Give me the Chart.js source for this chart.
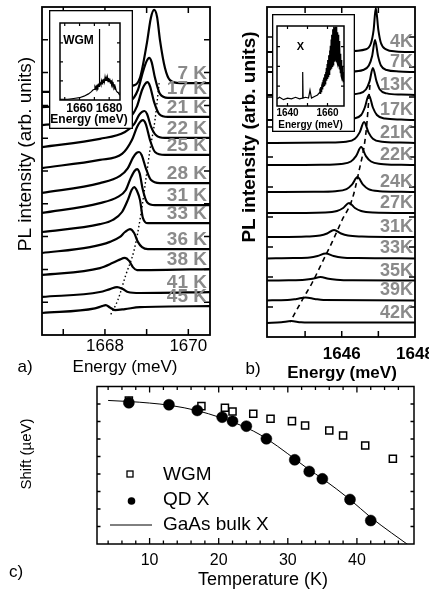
<!DOCTYPE html>
<html>
<head>
<meta charset="utf-8">
<script src="https://cdn.jsdelivr.net/npm/chart.js@4"></script>
<style>
  html, body { margin: 0; padding: 0; background: #fff; }
  #fig { position: relative; width: 429px; height: 589px; overflow: hidden; }
  canvas { position: absolute; }
</style>
</head>
<body>
<div id="fig">
  <canvas id="pa" width="215" height="392" style="left:0;top:0"></canvas>
  <canvas id="pb" width="214" height="392" style="left:215px;top:0"></canvas>
  <canvas id="pc" width="429" height="209" style="left:0;top:380px"></canvas>
  <canvas id="ia" width="84" height="119" style="left:49px;top:10px"></canvas>
  <canvas id="ib" width="83" height="118" style="left:272px;top:14px"></canvas>
</div>
<script>
const FAM = '"Liberation Sans", Arial, Helvetica, sans-serif';

// ---- panel a: WGM spectra, [energy meV, intensity arb.] ----
const tempsA = ['7 K', '17 K', '21 K', '22 K', '25 K', '28 K', '31 K', '33 K', '36 K', '38 K', '41 K', '45 K'];
const a7  = [[1666.49,7.41],[1668.12,7.47],[1668.65,7.59],[1668.84,7.84],[1669.01,8.93],[1669.10,9.66],[1669.18,9.91],[1669.25,9.70],[1669.32,8.99],[1669.44,8.14],[1669.56,7.77],[1669.80,7.68],[1670.52,7.68]];
const a17 = [[1666.49,6.95],[1668.12,7.04],[1668.60,7.13],[1668.79,7.47],[1668.91,8.02],[1669.00,8.35],[1669.06,8.45],[1669.12,8.32],[1669.20,7.84],[1669.32,7.35],[1669.51,7.23],[1670.52,7.23]];
const a21 = [[1666.49,6.40],[1668.12,6.52],[1668.60,6.65],[1668.77,6.98],[1668.89,7.47],[1668.96,7.65],[1669.02,7.71],[1669.08,7.59],[1669.18,7.10],[1669.30,6.74],[1669.51,6.65],[1670.52,6.65]];
const a22 = [[1666.49,5.73],[1667.88,5.98],[1668.48,6.19],[1668.70,6.43],[1668.82,6.71],[1668.89,6.80],[1668.95,6.83],[1669.01,6.74],[1669.10,6.37],[1669.22,6.10],[1669.44,6.01],[1670.52,6.01]];
const a25 = [[1666.49,5.09],[1667.88,5.34],[1668.41,5.52],[1668.65,5.95],[1668.77,6.34],[1668.84,6.49],[1668.91,6.55],[1668.98,6.43],[1669.08,5.95],[1669.20,5.58],[1669.44,5.49],[1670.52,5.49]];
const a28 = [[1666.49,4.33],[1667.88,4.63],[1668.36,4.85],[1668.55,5.09],[1668.67,5.40],[1668.76,5.55],[1668.82,5.58],[1668.88,5.49],[1668.98,5.09],[1669.10,4.73],[1669.32,4.63],[1670.52,4.63]];
const a31 = [[1666.49,3.72],[1667.88,4.02],[1668.31,4.21],[1668.50,4.42],[1668.62,4.79],[1668.71,5.00],[1668.77,5.06],[1668.83,4.94],[1668.91,4.42],[1669.01,4.05],[1669.20,3.96],[1670.52,3.96]];
const a33 = [[1666.49,3.14],[1667.88,3.38],[1668.19,3.51],[1668.41,3.75],[1668.55,4.12],[1668.64,4.42],[1668.70,4.51],[1668.77,4.39],[1668.84,4.12],[1668.91,3.57],[1669.03,3.41],[1670.52,3.41]];
const a36 = [[1666.49,2.50],[1667.64,2.68],[1668.12,2.84],[1668.36,2.99],[1668.48,3.14],[1668.60,3.23],[1668.70,3.11],[1668.79,2.84],[1668.89,2.68],[1669.03,2.62],[1670.52,2.62]];
const a38 = [[1666.49,1.83],[1667.88,2.04],[1668.19,2.20],[1668.34,2.29],[1668.48,2.35],[1668.58,2.26],[1668.67,2.07],[1668.77,1.98],[1669.08,1.98],[1670.52,2.01]];
const a41 = [[1666.49,1.16],[1667.88,1.31],[1668.12,1.40],[1668.29,1.46],[1668.43,1.40],[1668.55,1.31],[1668.84,1.28],[1670.52,1.31]];
const a45 = [[1666.49,0.67],[1667.76,0.81],[1667.93,0.88],[1668.02,0.91],[1668.12,0.84],[1668.24,0.76],[1668.48,0.79],[1668.84,0.85],[1670.52,0.88]];
const spectraA = [a7, a17, a21, a22, a25, a28, a31, a33, a36, a38, a41, a45];
const guideA = [[1669.30,7.68],[1669.20,6.55],[1669.08,5.64],[1668.98,4.73],[1668.86,3.66],[1668.70,2.59],[1668.50,1.83],[1668.31,1.07],[1668.12,0.58]];
const tickLabelsA = [1668, 1670];

// inset a: wide spectrum
const insetA = [[1646.8,0.01],[1652,0.01],[1656,0.02],[1660,0.03],[1663,0.05],[1666,0.08],[1668,0.11],[1669,0.13],
  [1670.0,0.14],[1670.4,0.17],[1670.8,0.15],[1671.2,0.18],[1671.6,0.16],[1672.0,0.19],[1672.4,0.17],[1672.8,0.20],[1673.2,0.18],
  [1673.4,0.19],[1673.5,0.93],[1673.6,0.20],[1674.0,0.22],[1674.4,0.20],[1674.8,0.25],[1675.2,0.21],[1675.6,0.27],[1676.0,0.23],
  [1676.4,0.28],[1676.8,0.24],[1677.2,0.30],[1677.6,0.25],[1678.0,0.29],[1678.4,0.25],[1678.8,0.30],[1679.2,0.24],[1679.6,0.29],
  [1680.0,0.24],[1680.4,0.28],[1680.8,0.22],[1681.2,0.26],[1681.6,0.20],[1682.0,0.24],[1682.4,0.19],[1682.8,0.21],[1683.2,0.16],
  [1683.6,0.18],[1684.0,0.14],[1684.4,0.15],[1684.8,0.12],[1685.2,0.12],[1685.6,0.10],[1686.0,0.10],[1686.6,0.08],[1687.3,0.07]];
const tickLabelsInsetA = [1660, 1680];

// ---- panel b: QD exciton spectra ----
const tempsB = ['4K', '7K', '13K', '17K', '21K', '22K', '24K', '27K', '31K', '33K', '35K', '39K', '42K'];
const b4  = [[1643.96,9.50],[1646.12,9.52],[1646.66,9.59],[1646.80,9.80],[1646.87,10.23],[1646.93,10.97],[1647.00,10.23],[1647.07,9.80],[1647.21,9.59],[1647.48,9.52],[1648.00,9.50]];
const b7  = [[1643.96,8.83],[1646.25,8.85],[1646.58,8.90],[1646.74,9.05],[1646.83,9.37],[1646.91,9.90],[1646.99,9.37],[1647.07,9.05],[1647.23,8.90],[1647.56,8.85],[1648.00,8.83]];
const b13 = [[1643.96,8.07],[1646.09,8.08],[1646.47,8.12],[1646.66,8.25],[1646.76,8.52],[1646.85,8.97],[1646.95,8.52],[1647.04,8.25],[1647.23,8.12],[1647.62,8.08],[1648.00,8.07]];
const b17 = [[1643.96,7.23],[1645.87,7.25],[1646.31,7.28],[1646.53,7.40],[1646.63,7.65],[1646.74,8.07],[1646.85,7.65],[1646.96,7.40],[1647.18,7.28],[1647.62,7.25],[1648.00,7.23]];
const b21 = [[1643.96,6.47],[1645.63,6.48],[1646.12,6.51],[1646.36,6.61],[1646.49,6.82],[1646.61,7.17],[1646.73,6.82],[1646.85,6.61],[1647.10,6.51],[1647.59,6.48],[1648.00,6.47]];
const b22 = [[1643.96,5.73],[1645.44,5.74],[1645.98,5.77],[1646.25,5.85],[1646.39,6.03],[1646.53,6.33],[1646.66,6.03],[1646.80,5.85],[1647.07,5.77],[1647.62,5.74],[1648.00,5.73]];
const b24 = [[1643.96,4.83],[1645.23,4.84],[1645.83,4.86],[1646.13,4.93],[1646.28,5.08],[1646.43,5.33],[1646.58,5.08],[1646.73,4.93],[1647.03,4.86],[1647.63,4.84],[1648.00,4.83]];
const b27 = [[1643.96,4.13],[1645.55,4.15],[1645.87,4.20],[1646.04,4.30],[1646.20,4.47],[1646.36,4.30],[1646.53,4.20],[1646.85,4.15],[1648.00,4.13]];
const b31 = [[1643.96,3.33],[1645.03,3.35],[1645.41,3.38],[1645.60,3.45],[1645.79,3.57],[1645.98,3.45],[1646.17,3.38],[1646.55,3.35],[1648.00,3.33]];
const b33 = [[1643.96,2.62],[1644.69,2.63],[1645.13,2.65],[1645.34,2.70],[1645.56,2.78],[1645.78,2.70],[1646.00,2.65],[1646.43,2.63],[1648.00,2.62]];
const b35 = [[1643.96,1.88],[1644.55,1.89],[1644.99,1.91],[1645.20,1.94],[1645.42,2.00],[1645.64,1.94],[1645.86,1.91],[1646.29,1.89],[1648.00,1.88]];
const b39 = [[1643.96,1.22],[1644.52,1.23],[1644.77,1.27],[1645.01,1.32],[1645.26,1.27],[1645.50,1.23],[1648.00,1.22]];
const b42 = [[1643.96,0.47],[1644.35,0.49],[1644.62,0.53],[1644.89,0.49],[1645.41,0.48],[1648.00,0.48]];
const spectraB = [b4, b7, b13, b17, b21, b22, b24, b27, b31, b33, b35, b39, b42];
const guideB = [[1646.77,8.40],[1646.66,6.80],[1646.46,5.47],[1646.28,4.57],[1646.01,3.90],[1645.74,3.17],[1645.46,2.47],[1645.19,1.80],[1644.92,1.23],[1644.59,0.50]];
const tickLabelsB = [1646, 1648];

// inset b: wide spectrum, noisy ensemble band on the right
const insetB = [[1634.75,0.09],[1636,0.11],[1638,0.08],[1640,0.10],[1642,0.09],[1644,0.11],[1646,0.09],[1647.4,0.10],[1647.6,0.43],[1647.8,0.10],
  [1649,0.11],[1650.5,0.10],[1651.25,0.20],[1652,0.10],[1653.5,0.12],[1655,0.14],
  [1656.0,0.17],[1656.2,0.22],[1656.4,0.16],[1656.6,0.24],[1656.8,0.18],[1657.0,0.27],[1657.2,0.20],[1657.4,0.30],[1657.6,0.21],[1657.8,0.33],
  [1658.0,0.24],[1658.2,0.36],[1658.4,0.26],[1658.6,0.40],[1658.8,0.28],[1659.0,0.43],[1659.2,0.30],[1659.4,0.48],[1659.6,0.32],[1659.8,0.53],
  [1660.0,0.34],[1660.2,0.58],[1660.4,0.37],[1660.6,0.64],[1660.8,0.40],[1661.0,0.70],[1661.2,0.42],[1661.4,0.76],[1661.6,0.45],[1661.8,0.84],
  [1662.0,0.47],[1662.2,0.90],[1662.4,0.50],[1662.6,0.97],[1662.8,0.52],[1663.0,1.00],[1663.2,0.55],[1663.4,0.99],[1663.6,0.56],[1663.8,1.00],
  [1664.0,0.57],[1664.2,0.98],[1664.4,0.56],[1664.6,1.00],[1664.8,0.55],[1665.0,0.93],[1665.2,0.52],[1665.4,0.90],[1665.6,0.50],[1665.8,0.82],
  [1666.0,0.46],[1666.2,0.75],[1666.4,0.42],[1666.6,0.66],[1666.8,0.38],[1667.0,0.58],[1667.2,0.35],[1667.4,0.50],[1667.6,0.32],[1667.8,0.43],
  [1668.0,0.30],[1668.25,0.36]];
const tickLabelsInsetB = [1640, 1660];

// ---- panel c: energy shift vs temperature ----
const wgmT     = [7, 17.5, 20.9, 22, 25, 27.5, 30.6, 32.5, 36, 38, 41.2, 45.2];
const wgmShift = [0, -110, -141, -213, -257, -354, -400, -484, -580, -677, -870, -1128];
const qdT      = [7, 12.8, 16.9, 20.5, 22, 24, 26.9, 31, 33.1, 35, 39, 42];
const qdShift  = [-44, -83, -193, -323, -400, -497, -741, -1147, -1373, -1515, -1915, -2321];
const bulkT     = [4, 7, 10, 13, 17, 20, 22, 25, 27, 30, 33, 35, 39, 42, 45, 47.4];
const bulkShift = [0, -20, -50, -95, -200, -320, -415, -590, -745, -1030, -1330, -1510, -1915, -2260, -2560, -2790];
const tickLabelsCx = [10, 20, 30, 40];
const tickLabelsCy = [0, -1000, -2000];

function pairs(xs, ys) { return xs.map((x, i) => [x, ys[i]]); }

function isMajor(v, every) {
  const r = v / every;
  return Math.abs(r - Math.round(r)) < 1e-6;
}

function labelFrom(list) {
  return v => {
    const hit = list.find(l => Math.abs(l - v) < 1e-6);
    return hit === undefined ? '' : String(hit);
  };
}

// frame, inward ticks on all sides, labels and texts
function decor(cfg) {
  return {
    id: 'decor',
    beforeDraw(chart) {
      if (!cfg.box) return;
      const {ctx, width, height} = chart;
      ctx.save();
      ctx.fillStyle = '#fff';
      ctx.fillRect(0, 0, width, height);
      ctx.strokeStyle = '#000';
      ctx.lineWidth = cfg.box;
      ctx.strokeRect(cfg.box / 2, cfg.box / 2, width - cfg.box, height - cfg.box);
      ctx.restore();
    },
    afterDatasetsDraw(chart) {
      const {ctx, chartArea: a, scales} = chart;
      const sx = scales.x, sy = scales.y;
      ctx.save();
      ctx.strokeStyle = '#000';
      ctx.lineWidth = cfg.tickWidth;
      ctx.beginPath();
      sx.ticks.forEach(t => {
        const p = sx.getPixelForValue(t.value);
        if (p < a.left + 2 || p > a.right - 2) return;
        const len = isMajor(t.value, cfg.xMajor) ? cfg.tick : cfg.minor;
        ctx.moveTo(p, a.bottom); ctx.lineTo(p, a.bottom - len);
        ctx.moveTo(p, a.top); ctx.lineTo(p, a.top + len);
      });
      sy.ticks.forEach(t => {
        const p = sy.getPixelForValue(t.value);
        if (p < a.top + 2 || p > a.bottom - 2) return;
        const len = isMajor(t.value, cfg.yMajor) ? cfg.tick : cfg.minor;
        ctx.moveTo(a.left, p); ctx.lineTo(a.left + len, p);
        ctx.moveTo(a.right, p); ctx.lineTo(a.right - len, p);
      });
      ctx.stroke();
      ctx.lineWidth = cfg.frame;
      ctx.strokeRect(a.left, a.top, a.right - a.left, a.bottom - a.top);

      if (cfg.temps) {
        ctx.font = cfg.temps.font;
        ctx.fillStyle = '#8a8a8a';
        ctx.textAlign = 'right';
        ctx.textBaseline = 'middle';
        chart.data.datasets.forEach(ds => {
          if (!ds.label) return;
          const last = ds.data[ds.data.length - 1];
          ctx.fillText(ds.label, a.right - cfg.temps.inset, sy.getPixelForValue(last[1]) - cfg.temps.lift);
        });
      }

      if (cfg.legend) {
        ctx.textAlign = 'left';
        ctx.textBaseline = 'middle';
        ctx.font = cfg.legend.font;
        cfg.legend.items.forEach(it => {
          const ds = chart.data.datasets[it.ds];
          ctx.fillStyle = '#000';
          ctx.strokeStyle = '#000';
          if (it.kind === 'rect') {
            ctx.lineWidth = 1.3;
            ctx.fillStyle = '#fff';
            ctx.fillRect(it.x - 3, it.y - 3, 6, 6);
            ctx.strokeRect(it.x - 3, it.y - 3, 6, 6);
          } else if (it.kind === 'circle') {
            ctx.beginPath();
            ctx.arc(it.x, it.y, 3.8, 0, Math.PI * 2);
            ctx.fill();
          } else {
            ctx.lineWidth = 1;
            ctx.beginPath();
            ctx.moveTo(it.x - 21, it.y); ctx.lineTo(it.x + 21, it.y);
            ctx.stroke();
          }
          ctx.fillStyle = '#000';
          ctx.fillText(ds.label, cfg.legend.textX, it.ty);
        });
      }

      (cfg.notes || []).forEach(n => {
        ctx.save();
        ctx.translate(n.x, n.y);
        if (n.rot) ctx.rotate(n.rot * Math.PI / 180);
        ctx.font = n.font;
        ctx.fillStyle = '#000';
        ctx.textAlign = 'center';
        ctx.textBaseline = 'middle';
        ctx.fillText(n.text, 0, 0);
        ctx.restore();
      });
      ctx.restore();
    }
  };
}

function xScale(min, max, step, font, pad, height, labels) {
  return {
    type: 'linear', min: min, max: max,
    grid: {display: false, drawTicks: false}, border: {display: false},
    ticks: {
      stepSize: step, includeBounds: false, autoSkip: false, maxRotation: 0, minRotation: 0,
      padding: pad, color: '#000', font: font, callback: labelFrom(labels)
    },
    afterFit: s => { s.height = height; s.paddingLeft = 0; s.paddingRight = 0; }
  };
}

function yScaleBlank(min, max, step, width) {
  return {
    type: 'linear', min: min, max: max,
    grid: {display: false, drawTicks: false}, border: {display: false},
    ticks: {stepSize: step, includeBounds: false, display: false},
    afterFit: s => { s.width = width; s.paddingTop = 0; s.paddingBottom = 0; }
  };
}

const baseOpts = {
  responsive: false, animation: false, events: [],
  plugins: {legend: {display: false}, tooltip: {enabled: false}}
};

function spectrumSet(label, data, width) {
  return {
    label: label, data: data, borderColor: '#000', borderWidth: width,
    pointRadius: 0, fill: false, cubicInterpolationMode: 'monotone'
  };
}

// panel a
new Chart(document.getElementById('pa'), {
  type: 'line',
  data: {
    datasets: spectraA.map((d, i) => spectrumSet(tempsA[i], d, 2.2)).concat([{
      label: '', data: guideA, borderColor: '#000', borderWidth: 1.4, borderDash: [1.5, 2.5],
      pointRadius: 0, fill: false, cubicInterpolationMode: 'monotone'
    }])
  },
  options: Object.assign({}, baseOpts, {
    layout: {padding: {top: 7, right: 5, left: 0, bottom: 0}},
    scales: {
      x: xScale(1666.49, 1670.52, 1, {family: FAM, size: 17}, 1, 57, tickLabelsA),
      y: yScaleBlank(0, 10, 1, 42)
    }
  }),
  plugins: [decor({
    frame: 1.8, tickWidth: 1.5, tick: 6, minor: 6, xMajor: 1, yMajor: 1,
    temps: {font: 'bold 19px ' + FAM, inset: 3, lift: 9},
    notes: [
      {text: 'PL intensity (arb. units)', x: 26, y: 154, rot: -90, font: '19px ' + FAM},
      {text: 'Energy (meV)', x: 125, y: 367, font: '17px ' + FAM},
      {text: 'a)', x: 25, y: 367, font: '17px ' + FAM}
    ]
  })]
});

// inset a
new Chart(document.getElementById('ia'), {
  type: 'line',
  data: {datasets: [{label: '', data: insetA, borderColor: '#000', borderWidth: 1.2, pointRadius: 0, fill: false, tension: 0}]},
  options: Object.assign({}, baseOpts, {
    layout: {padding: {top: 13, right: 13, left: 0, bottom: 0}},
    scales: {
      x: xScale(1646.8, 1687.3, 10, {family: FAM, size: 12, weight: 'bold'}, 1, 29, tickLabelsInsetA),
      y: yScaleBlank(0, 1.01, 0.25, 11)
    }
  }),
  plugins: [decor({
    box: 1.3, frame: 1.5, tickWidth: 1.2, tick: 3, minor: 3, xMajor: 10, yMajor: 0.25,
    notes: [
      {text: 'WGM', x: 29.5, y: 31, font: 'bold 12px ' + FAM},
      {text: 'Energy (meV)', x: 40, y: 110, font: 'bold 12px ' + FAM}
    ]
  })]
});

// panel b
new Chart(document.getElementById('pb'), {
  type: 'line',
  data: {
    datasets: spectraB.map((d, i) => spectrumSet(tempsB[i], d, 2)).concat([{
      label: '', data: guideB, borderColor: '#000', borderWidth: 1.6, borderDash: [5, 4],
      pointRadius: 0, fill: false, cubicInterpolationMode: 'monotone'
    }])
  },
  options: Object.assign({}, baseOpts, {
    layout: {padding: {top: 7, right: 14, left: 0, bottom: 0}},
    scales: {
      x: xScale(1643.96, 1648.0, 1, {family: FAM, size: 17, weight: 'bold'}, 7, 55, tickLabelsB),
      y: yScaleBlank(0, 11, 1, 52)
    }
  }),
  plugins: [decor({
    frame: 1.8, tickWidth: 1.5, tick: 6, minor: 6, xMajor: 1, yMajor: 1,
    temps: {font: 'bold 18px ' + FAM, inset: 2, lift: 10},
    notes: [
      {text: 'PL intensity (arb. units)', x: 35, y: 137, rot: -90, font: 'bold 19px ' + FAM},
      {text: 'Energy (meV)', x: 127, y: 373, font: 'bold 17px ' + FAM},
      {text: 'b)', x: 38, y: 369, font: '17px ' + FAM}
    ]
  })]
});

// inset b
new Chart(document.getElementById('ib'), {
  type: 'line',
  data: {datasets: [{label: '', data: insetB, borderColor: '#000', borderWidth: 1.2, pointRadius: 0, fill: false, tension: 0}]},
  options: Object.assign({}, baseOpts, {
    layout: {padding: {top: 12, right: 11, left: 0, bottom: 0}},
    scales: {
      x: xScale(1634.75, 1668.25, 10, {family: FAM, size: 10, weight: 'bold'}, 1, 26, tickLabelsInsetB),
      y: yScaleBlank(0, 1.01, 0.25, 5)
    }
  }),
  plugins: [decor({
    box: 1.3, frame: 1.5, tickWidth: 1.2, tick: 3, minor: 3, xMajor: 10, yMajor: 0.25,
    notes: [
      {text: 'X', x: 28.5, y: 32.5, font: 'bold 11px ' + FAM},
      {text: 'Energy (meV)', x: 38.5, y: 111, font: 'bold 10px ' + FAM}
    ]
  })]
});

// panel c
new Chart(document.getElementById('pc'), {
  type: 'line',
  data: {
    datasets: [
      {label: 'QD X', data: pairs(qdT, qdShift), showLine: false, pointStyle: 'circle', pointRadius: 5.5,
       pointBackgroundColor: '#000', pointBorderColor: '#000', pointBorderWidth: 0.5, order: 0},
      {label: 'WGM', data: pairs(wgmT, wgmShift), showLine: false, pointStyle: 'rect', pointRadius: 5,
       pointBackgroundColor: '#fff', pointBorderColor: '#000', pointBorderWidth: 1.5, order: 1},
      {label: 'GaAs bulk X', data: pairs(bulkT, bulkShift), borderColor: '#000', borderWidth: 1,
       pointRadius: 0, fill: false, cubicInterpolationMode: 'monotone', order: 2}
    ]
  },
  options: Object.assign({}, baseOpts, {
    layout: {padding: {top: 6, right: 15, left: 0, bottom: 0}},
    scales: {
      x: xScale(2.39, 48.26, 2, {family: FAM, size: 16}, 7, 45, tickLabelsCx),
      y: {
        type: 'linear', min: -2775, max: 270,
        grid: {display: false, drawTicks: false}, border: {display: false},
        ticks: {
          stepSize: 1000 / 3, includeBounds: false, autoSkip: false, padding: 6, color: '#000',
          font: {family: FAM, size: 16}, callback: labelFrom(tickLabelsCy)
        },
        afterFit: s => { s.width = 97; s.paddingTop = 0; s.paddingBottom = 0; }
      }
    }
  }),
  plugins: [decor({
    frame: 1.5, tickWidth: 1.3, tick: 6, minor: 3.5, xMajor: 10, yMajor: 1000,
    legend: {
      font: '19px ' + FAM, textX: 163,
      items: [
        {ds: 1, kind: 'rect', x: 130, y: 94, ty: 95},
        {ds: 0, kind: 'circle', x: 131.5, y: 121, ty: 120},
        {ds: 2, kind: 'line', x: 131, y: 145, ty: 145}
      ]
    },
    notes: [
      {text: 'Temperature (K)', x: 263, y: 200, font: '18px ' + FAM},
      {text: 'Shift (\u00b5eV)', x: 27, y: 74, rot: -90, font: '15px ' + FAM},
      {text: 'c)', x: 16, y: 192, font: '17px ' + FAM}
    ]
  })]
});
</script>
</body>
</html>
